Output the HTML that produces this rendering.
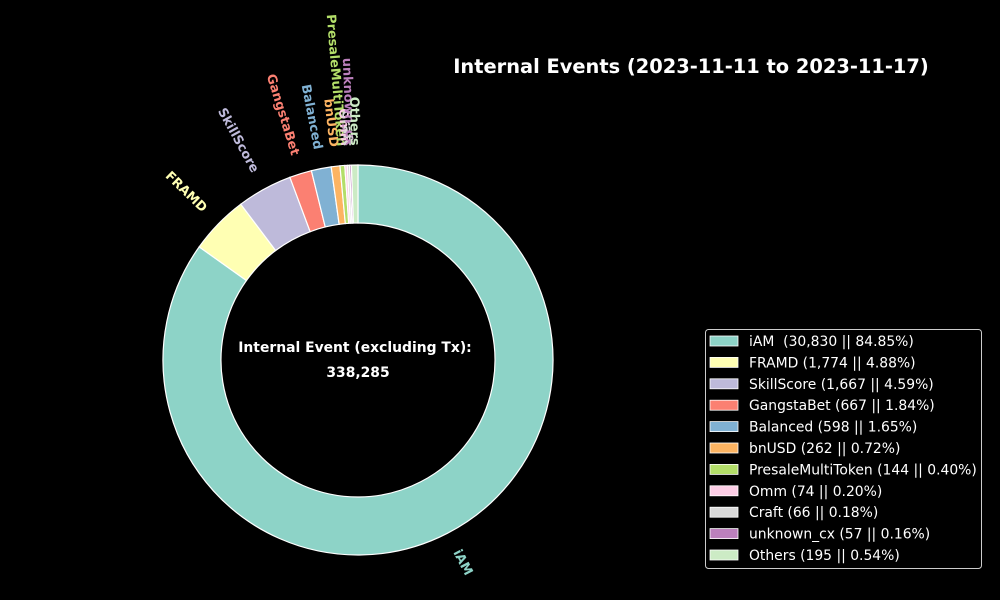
<!DOCTYPE html>
<html><head><meta charset="utf-8"><style>
html,body{margin:0;padding:0;background:#000;width:1000px;height:600px;overflow:hidden}
svg{display:block;font-family:"DejaVu Sans","Liberation Sans",sans-serif}
</style></head><body>
<svg id="chart" width="1000" height="600">
<rect width="1000" height="600" fill="#000"/>
<text x="691" y="73" fill="#fff" font-size="19.4" font-weight="bold" text-anchor="middle">Internal Events (2023-11-11 to 2023-11-17)</text>
<g id="slices"></g>
<g id="labels"></g>
<text x="355" y="352" fill="#fff" font-size="13.9" font-weight="bold" text-anchor="middle">Internal Event (excluding Tx):</text>
<text x="358" y="377" fill="#fff" font-size="13.9" font-weight="bold" text-anchor="middle">338,285</text>
<g id="legend">
<rect x="705.5" y="329.5" width="276" height="239" rx="3" fill="#000" stroke="#ccc" stroke-width="1"/>
</g>
</svg>
<script>
const categories = ["iAM","FRAMD","SkillScore","GangstaBet","Balanced","bnUSD","PresaleMultiToken","Omm","Craft","unknown_cx","Others"];
const values = [30830,1774,1667,667,598,262,144,74,66,57,195];
const legendLabels = ["iAM  (30,830 || 84.85%)","FRAMD (1,774 || 4.88%)","SkillScore (1,667 || 4.59%)","GangstaBet (667 || 1.84%)","Balanced (598 || 1.65%)","bnUSD (262 || 0.72%)","PresaleMultiToken (144 || 0.40%)","Omm (74 || 0.20%)","Craft (66 || 0.18%)","unknown_cx (57 || 0.16%)","Others (195 || 0.54%)"];
const colors = ["#8dd3c7","#ffffb3","#bebada","#fb8072","#80b1d3","#fdb462","#b3de69","#fccde5","#d9d9d9","#bc80bd","#ccebc5"];
const NS="http://www.w3.org/2000/svg";
const cx=358, cy=360, R=195, r0=137;
const total=values.reduce((a,b)=>a+b,0);
function pt(deg,rad){const a=deg*Math.PI/180;return [cx+rad*Math.cos(a), cy-rad*Math.sin(a)];}
let ang=90;
const gS=document.getElementById('slices'), gL=document.getElementById('labels'), gLeg=document.getElementById('legend');
values.forEach((v,i)=>{
  const sweep=v/total*360, a0=ang, a1=ang-sweep;
  const p0=pt(a0,R), p1=pt(a1,R), q1=pt(a1,r0), q0=pt(a0,r0);
  const large=sweep>180?1:0;
  const d=`M${p0[0]},${p0[1]} A${R},${R} 0 ${large} 1 ${p1[0]},${p1[1]} L${q1[0]},${q1[1]} A${r0},${r0} 0 ${large} 0 ${q0[0]},${q0[1]} Z`;
  const path=document.createElementNS(NS,'path');
  path.setAttribute('d',d);path.setAttribute('fill',colors[i]);path.setAttribute('stroke','#fff');path.setAttribute('stroke-width','1.2');
  
  
  gS.appendChild(path);
  let mid=(a0+a1)/2; mid=((mid%360)+360)%360;
  const lp=pt(mid,R*1.1);
  let rot=mid; let anchor='start';
  if(mid>90&&mid<270){rot=mid-180;anchor='end';}
  const t=document.createElementNS(NS,'text');
  t.setAttribute('x',lp[0]);t.setAttribute('y',lp[1]);t.setAttribute('fill',colors[i]);
  t.setAttribute('font-size','12.8');t.setAttribute('font-weight','bold');t.setAttribute('text-anchor',anchor);
  t.setAttribute('dominant-baseline','central');
  t.setAttribute('transform',`rotate(${-rot} ${lp[0]} ${lp[1]})`);
  t.textContent=categories[i];
  
  
  gL.appendChild(t);
  ang=a1;
  const y=341+i*21.4;
  const sw=document.createElementNS(NS,'rect');
  sw.setAttribute('x',710);sw.setAttribute('y',y-5);sw.setAttribute('width',28);sw.setAttribute('height',10);
  sw.setAttribute('fill',colors[i]);sw.setAttribute('stroke','#fff');sw.setAttribute('stroke-width','0.8');
  
  
  gLeg.appendChild(sw);
  const lt=document.createElementNS(NS,'text');
  lt.setAttribute('x',749);lt.setAttribute('y',y+5);lt.setAttribute('fill','#fff');lt.setAttribute('font-size','13.9');
  lt.setAttribute('style','white-space:pre');
  lt.textContent=legendLabels[i];
  
  
  gLeg.appendChild(lt);
});
</script>
</body></html>
